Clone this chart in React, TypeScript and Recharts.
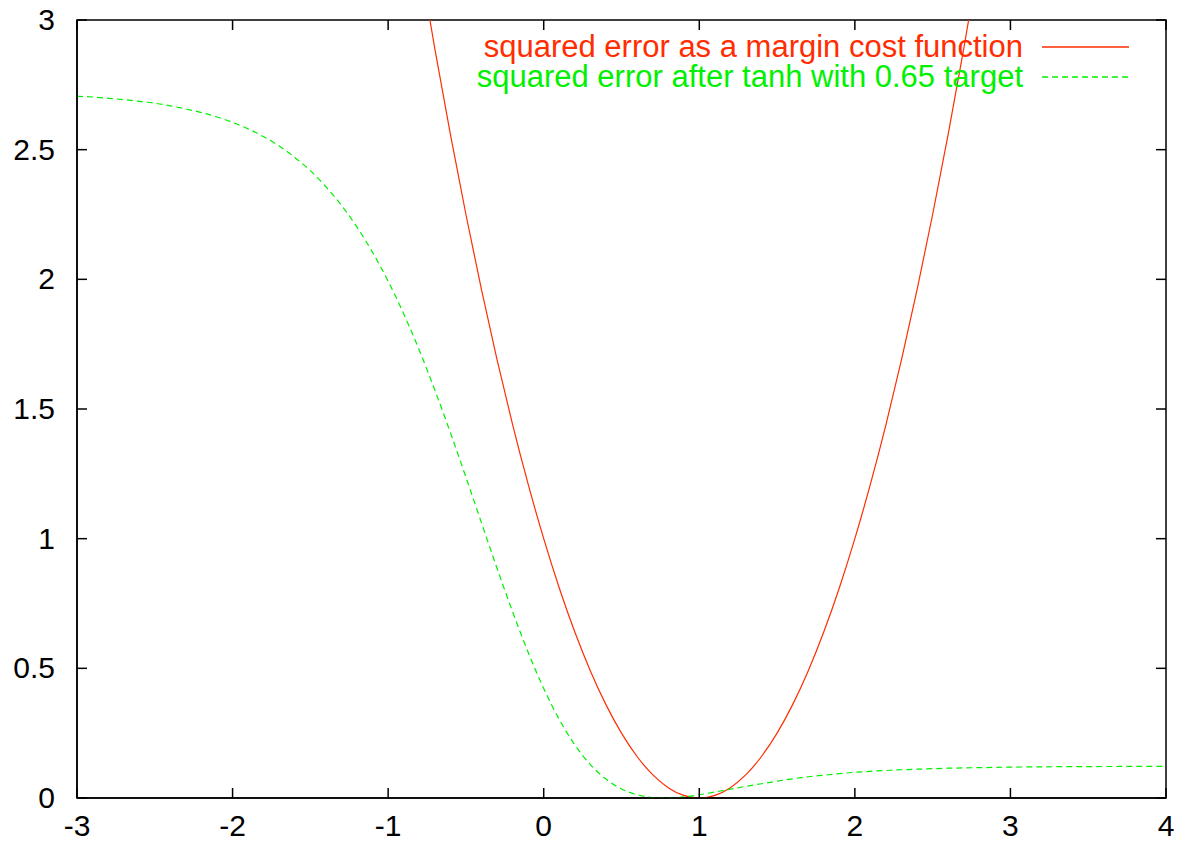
import React from 'react';
import { LineChart, Line, XAxis, YAxis, ReferenceArea } from 'recharts';

// x samples, every 0.1 from -3 to 4
const xValues: number[] = [
  -3, -2.9, -2.8, -2.7, -2.6, -2.5, -2.4, -2.3, -2.2, -2.1,
  -2, -1.9, -1.8, -1.7, -1.6, -1.5, -1.4, -1.3, -1.2, -1.1,
  -1, -0.9, -0.8, -0.7, -0.6, -0.5, -0.4, -0.3, -0.2, -0.1,
  0, 0.1, 0.2, 0.3, 0.4, 0.5, 0.6, 0.7, 0.8, 0.9,
  1, 1.1, 1.2, 1.3, 1.4, 1.5, 1.6, 1.7, 1.8, 1.9,
  2, 2.1, 2.2, 2.3, 2.4, 2.5, 2.6, 2.7, 2.8, 2.9,
  3, 3.1, 3.2, 3.3, 3.4, 3.5, 3.6, 3.7, 3.8, 3.9,
  4,
];

// red: only inside the window (null = off the top of the plot)
const marginCost: (number | null)[] = [
  null, null, null, null, null, null, null, null, null, null,
  null, null, null, null, null, null, null, null, null, null,
  null, null, 3.24, 2.89, 2.56, 2.25, 1.96, 1.69, 1.44, 1.21,
  1, 0.81, 0.64, 0.49, 0.36, 0.25, 0.16, 0.09, 0.04, 0.01,
  0, 0.01, 0.04, 0.09, 0.16, 0.25, 0.36, 0.49, 0.64, 0.81,
  1, 1.21, 1.44, 1.69, 1.96, 2.25, 2.56, 2.89, 3.24, null,
  null, null, null, null, null, null, null, null, null, null,
  null,
];

const tanhTarget: number[] = [
  2.706, 2.703, 2.698, 2.693, 2.686, 2.679, 2.669, 2.657, 2.643, 2.626,
  2.605, 2.58, 2.55, 2.514, 2.47, 2.419, 2.357, 2.285, 2.201, 2.104,
  1.993, 1.867, 1.727, 1.573, 1.409, 1.237, 1.061, 0.886, 0.718, 0.562,
  0.4225, 0.303, 0.205, 0.129, 0.073, 0.035, 0.013, 0.002, 0.0002, 0.004,
  0.0125, 0.023, 0.034, 0.045, 0.055, 0.065, 0.074, 0.082, 0.088, 0.094,
  0.099, 0.103, 0.106, 0.109, 0.111, 0.113, 0.115, 0.116, 0.117, 0.118,
  0.119, 0.1197, 0.1202, 0.1206, 0.1209, 0.1212, 0.1214, 0.1216, 0.1218, 0.1219,
  0.122,
];

const xTicks = [-3, -2, -1, 0, 1, 2, 3, 4];
const yTicks = [0, 0.5, 1, 1.5, 2, 2.5, 3];
const xDomain: [number, number] = [-3, 4];
const yDomain: [number, number] = [0, 3];

const series = [
  { key: 'cost', name: 'squared error as a margin cost function', color: '#ff2d00', dash: undefined as string | undefined },
  { key: 'tanh', name: 'squared error after tanh with 0.65 target', color: '#00f000', dash: '6 4' },
];

const data = xValues.map((x, i) => ({ x, cost: marginCost[i], tanh: tanhTarget[i] }));

const W = 1177, H = 843;
const M = { top: 20, right: 11 };
const Y_W = 77, X_H = 45;
const PLOT_W = W - Y_W - M.right;
const PLOT_H = H - M.top - X_H;
const TICK = 10;
const FS = 30;
const font = '"Liberation Sans", Arial, Helvetica, sans-serif';

const XTick = ({ x, y, payload }: any) => (
  <g>
    <line x1={x} x2={x} y1={y} y2={y - TICK} stroke="#000" strokeWidth={1.5} />
    <line x1={x} x2={x} y1={y - PLOT_H} y2={y - PLOT_H + TICK} stroke="#000" strokeWidth={1.5} />
    <text x={x} y={y + 38} textAnchor="middle" fontSize={FS} fontFamily={font} fill="#000">{payload.value}</text>
  </g>
);

const YTick = ({ x, y, payload }: any) => (
  <g>
    <line x1={x} x2={x + TICK} y1={y} y2={y} stroke="#000" strokeWidth={1.5} />
    <line x1={x + PLOT_W} x2={x + PLOT_W - TICK} y1={y} y2={y} stroke="#000" strokeWidth={1.5} />
    <text x={x - 22} y={y + 10} textAnchor="end" fontSize={FS} fontFamily={font} fill="#000">{payload.value}</text>
  </g>
);

// gnuplot-style key, top right inside the frame
const KeyBox = () => (
  <div style={{ position: 'absolute', left: 0, top: 0, width: W, height: H, pointerEvents: 'none' }}>
    {series.map((s, i) => (
      <div key={s.key} style={{ position: 'absolute', right: W - 1129, top: 32 + i * 30, display: 'flex', alignItems: 'center', gap: 19, height: 30 }}>
        <span style={{ display: 'block', height: 30, fontFamily: font, fontSize: 31, color: s.color, whiteSpace: 'nowrap', lineHeight: '30px' }}>{s.name}</span>
        <svg width={87} height={4}>
          <line x1={0} x2={87} y1={2} y2={2} stroke={s.color} strokeWidth={1.3} strokeDasharray={s.dash} />
        </svg>
      </div>
    ))}
  </div>
);

export default function App() {
  return (
    <div style={{ position: 'absolute', left: 0, top: 0, width: W, height: H, background: '#fff' }}>
      <LineChart width={W} height={H} data={data} margin={{ top: M.top, right: M.right, left: 0, bottom: 0 }}>
        <XAxis dataKey="x" type="number" domain={xDomain} ticks={xTicks} interval={0}
          height={X_H} tickSize={0} tickMargin={0} tick={<XTick />}
          axisLine={{ stroke: '#000', strokeWidth: 1.5 }} allowDataOverflow />
        <YAxis type="number" domain={yDomain} ticks={yTicks} interval={0}
          width={Y_W} tickSize={0} tickMargin={0} tick={<YTick />}
          axisLine={{ stroke: '#000', strokeWidth: 1.5 }} allowDataOverflow />
        <ReferenceArea x1={xDomain[0]} x2={xDomain[1]} y1={yDomain[0]} y2={yDomain[1]}
          fill="none" stroke="#000" strokeWidth={1.5} fillOpacity={0} />
        {series.map(s => (
          <Line key={s.key} type="monotone" dataKey={s.key} name={s.name} stroke={s.color}
            strokeWidth={1.2} strokeDasharray={s.dash} dot={false} activeDot={false}
            connectNulls={false} isAnimationActive={false} />
        ))}
      </LineChart>
      <KeyBox />
    </div>
  );
}
